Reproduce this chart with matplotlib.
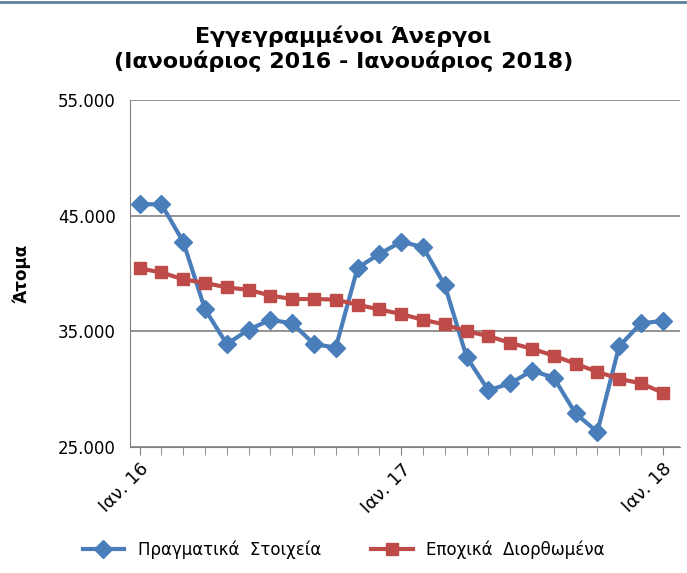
import matplotlib.pyplot as plt
from matplotlib.ticker import FuncFormatter

# Μηνιαία στοιχεία Ιαν. 2016 - Ιαν. 2018
months = list(range(25))
tick_pos = [0, 12, 24]
tick_labels = ["Ιαν. 16", "Ιαν. 17", "Ιαν. 18"]
y_ticks = [25000, 35000, 45000, 55000]

actual = [46000, 46000, 42750, 36900, 33900, 35150, 36000, 35700, 33900, 33600,
          40500, 41700, 42750, 42300, 39000, 32800, 29900, 30500, 31600, 31000,
          27900, 26300, 33700, 35700, 35900]
seasonal = [40450, 40100, 39500, 39200, 38800, 38600, 38100, 37800, 37800, 37750,
            37300, 36900, 36500, 36000, 35600, 35000, 34600, 34000, 33500, 32900,
            32200, 31500, 30900, 30500, 29700]

blue = "#4A7EBB"
red = "#BE4B48"

fig = plt.figure(figsize=(6.87, 5.73), dpi=100)
ax = fig.add_axes([0.189, 0.220, 0.801, 0.605])

ax.plot(months, actual, color=blue, lw=3, marker="D", ms=9, mfc=blue, mec=blue,
        label="Πραγματικά  Στοιχεία")
ax.plot(months, seasonal, color=red, lw=3, marker="s", ms=8, mfc=red, mec=red,
        label="Εποχικά  Διορθωμένα")

ax.set_ylim(25000, 55000)
ax.set_xlim(-0.45, 24.8)
ax.set_yticks(y_ticks)
ax.yaxis.set_major_formatter(FuncFormatter(lambda v, p: f"{int(v):,}".replace(",", ".")))
ax.grid(axis="y", color="#808080", lw=1.2)
ax.set_axisbelow(True)

ax.set_xticks(tick_pos)
ax.set_xticklabels(tick_labels, rotation=45, ha="right", rotation_mode="anchor", fontsize=13)
ax.set_xticks(months, minor=True)
ax.tick_params(axis="x", which="both", length=6, color="#808080", direction="out")
ax.tick_params(axis="y", length=0, labelsize=12, pad=10)

for s in ["top", "right"]:
    ax.spines[s].set_visible(False)
ax.spines["left"].set_color("#808080")
ax.spines["bottom"].set_color("#808080")

ax.set_ylabel("Άτομα", fontsize=12, fontweight="bold")
ax.yaxis.set_label_coords(-0.18, 0.5)

fig.suptitle("Εγγεγραμμένοι Άνεργοι\n(Ιανουάριος 2016 - Ιανουάριος 2018)",
             fontsize=16, fontweight="bold", y=0.955, linespacing=1.2)

fig.legend(loc="center", bbox_to_anchor=(0.5, 0.04), ncol=2, frameon=False,
           fontsize=12, handlelength=2.5, columnspacing=3)

fig.add_artist(plt.Line2D([0, 1], [0.997, 0.997], color="#5F7F99", lw=2))

fig.savefig("out.png", dpi=100)
